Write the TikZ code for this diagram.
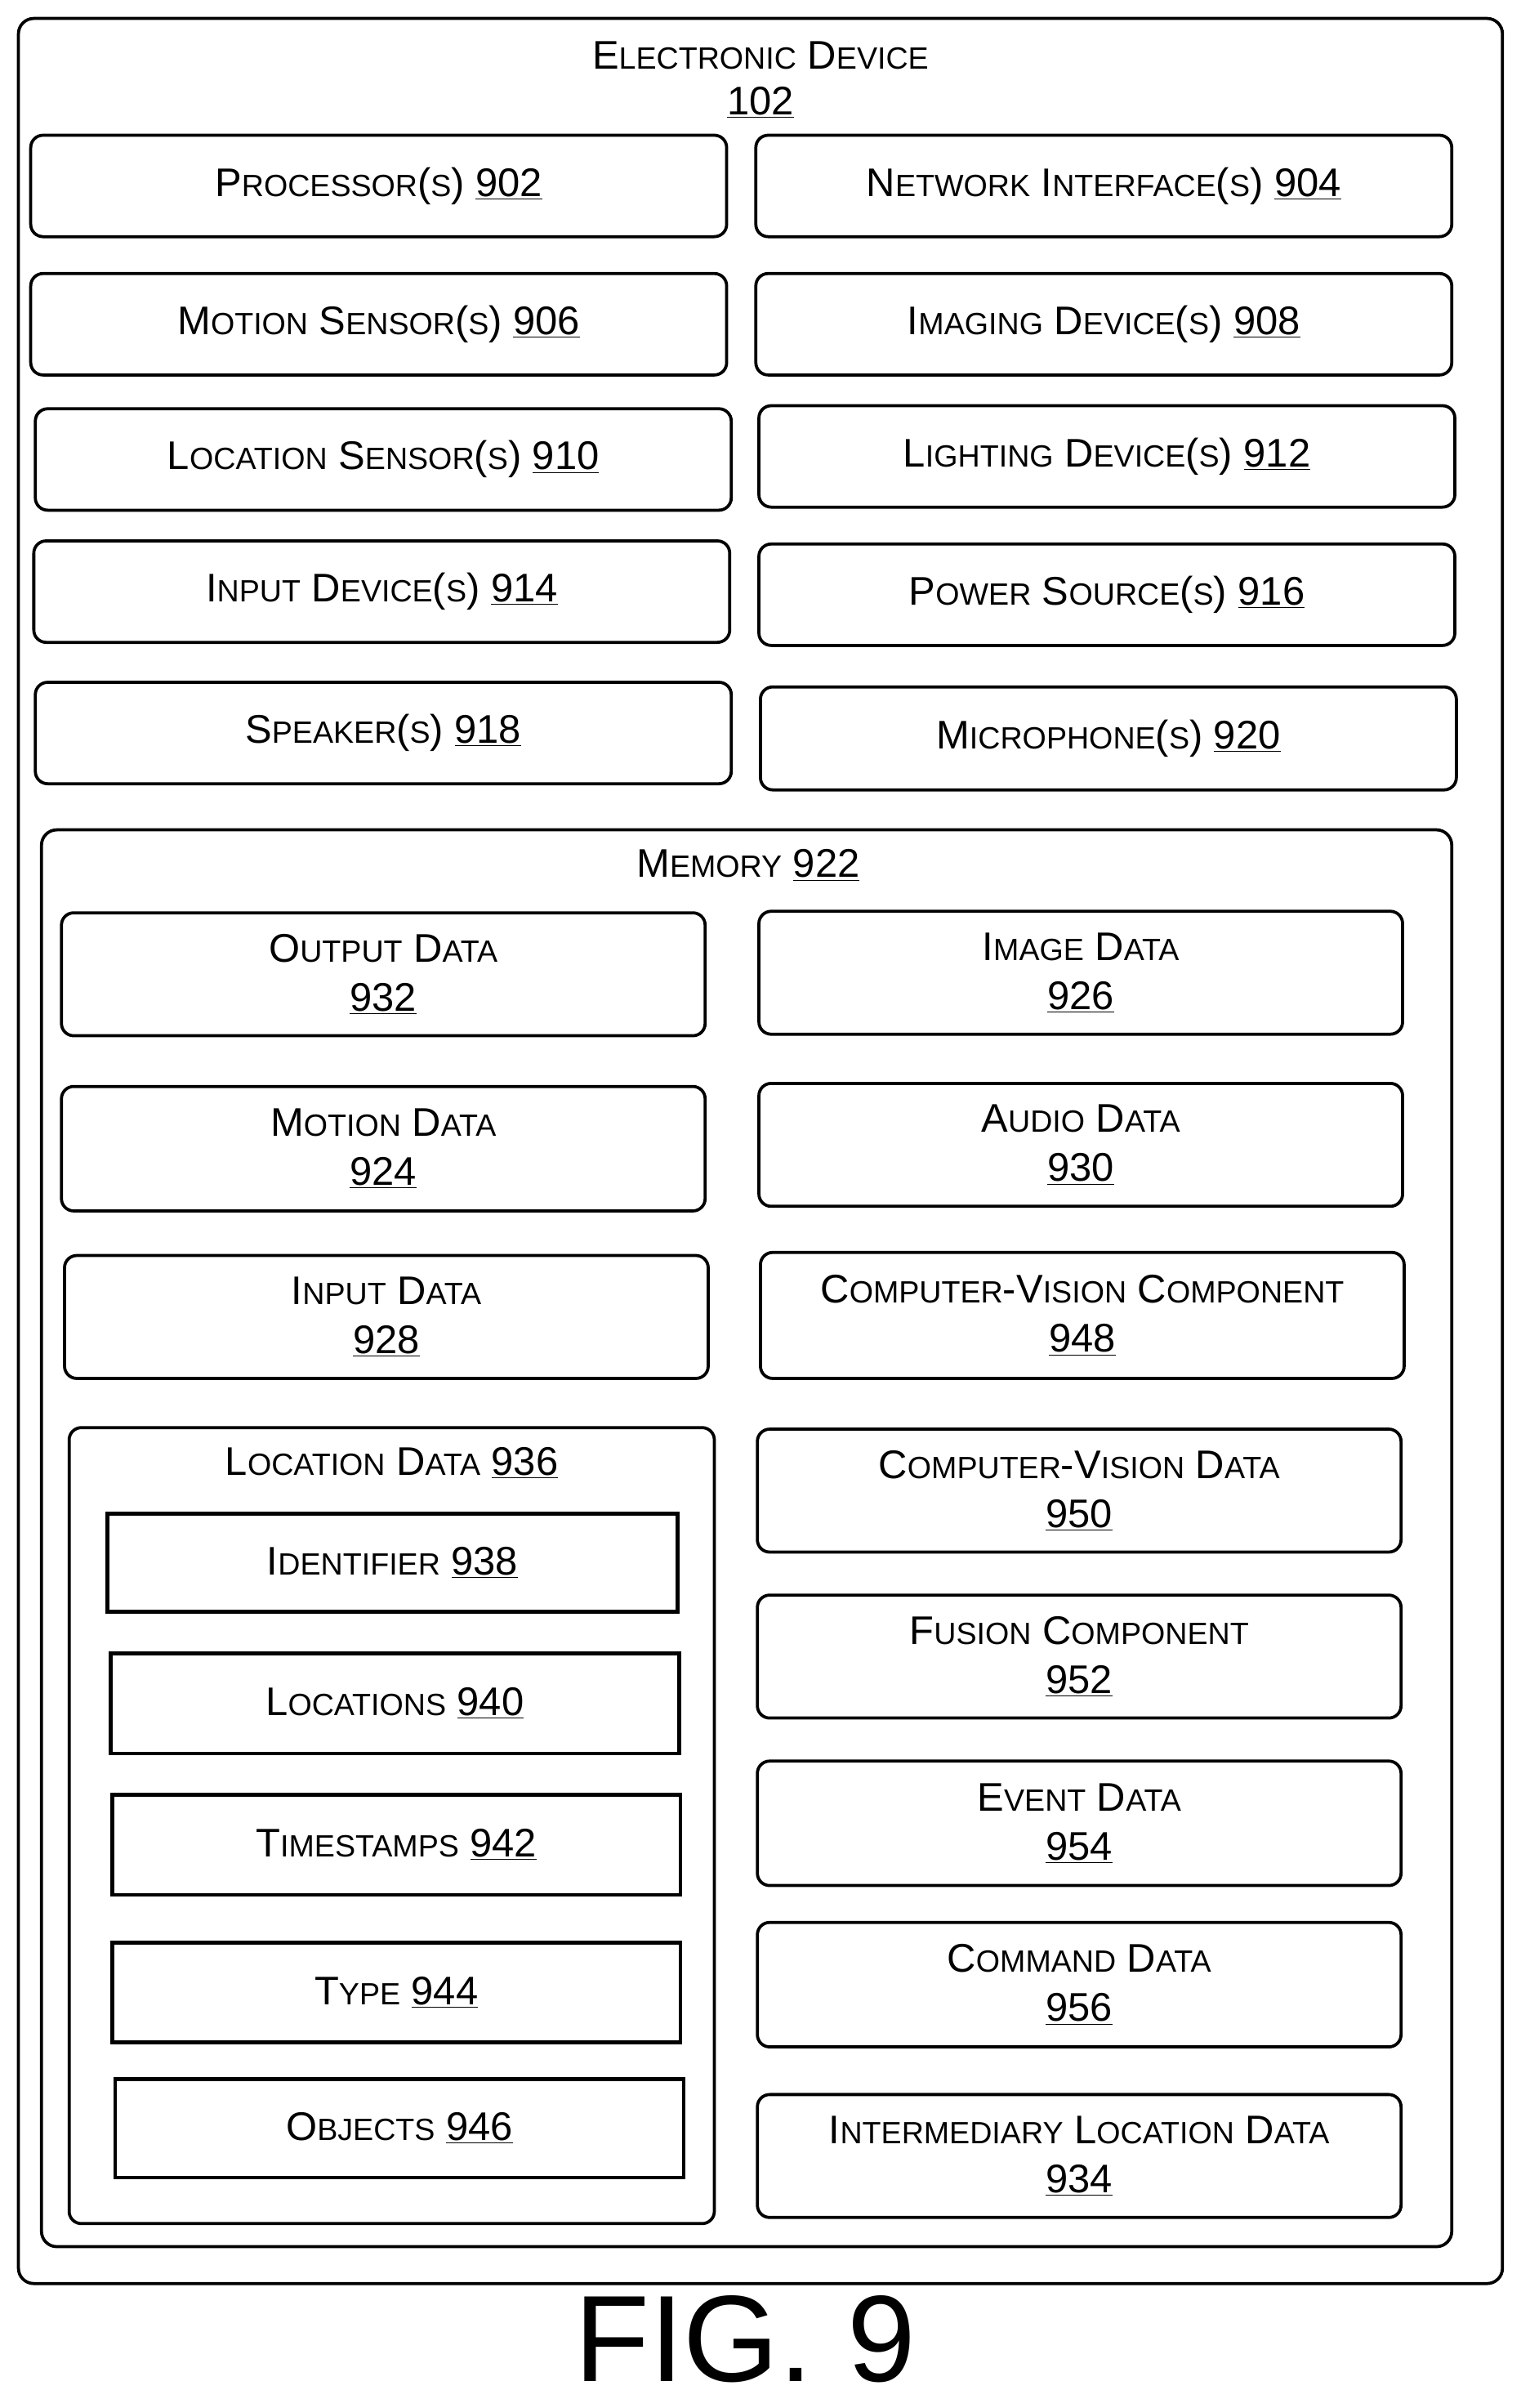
\documentclass[tikz,border=0pt]{standalone}
\usepackage{fontspec}
\setmainfont{Liberation Sans}
\newcommand\sm[1]{{\fontsize{20}{20}\selectfont #1}}
\newcommand\nr[1]{\underline{#1}}
\tikzset{
  unit/.style={draw, line width=2pt, rounded corners=8pt, inner sep=0pt, align=center},
  part/.style={draw, line width=2.5pt, inner sep=0pt, align=center},
}
\newcommand\unitbox[6]{\node[unit, minimum width={#3-#1}, minimum height={#4-#2}] (#5) at ({(#1+#3)/2},{-(#2+#4)/2}) {#6};}
\newcommand\partbox[6]{\node[part, minimum width={#3-#1}, minimum height={#4-#2}] (#5) at ({(#1+#3)/2},{-(#2+#4)/2}) {#6};}
\begin{document}
\begin{tikzpicture}[x=1pt, y=1pt, font=\fontsize{26}{32}\selectfont]
\useasboundingbox (0,0) rectangle (990,-1567);

% outer device
\draw[line width=2pt, rounded corners=10pt] (12,-12) rectangle (978,-1486);
\node[align=center] (dev) at (495,-52) {E\sm{LECTRONIC} D\sm{EVICE}\\[-2pt]\nr{102}};

% hardware
\unitbox{20}{88}{473}{154}{proc}{P\sm{ROCESSOR}(\sm{S}) \nr{902}}
\unitbox{492}{88}{945}{154}{net}{N\sm{ETWORK} I\sm{NTERFACE}(\sm{S}) \nr{904}}
\unitbox{20}{178}{473}{244}{motion}{M\sm{OTION} S\sm{ENSOR}(\sm{S}) \nr{906}}
\unitbox{492}{178}{945}{244}{imaging}{I\sm{MAGING} D\sm{EVICE}(\sm{S}) \nr{908}}
\unitbox{23}{266}{476}{332}{locsens}{L\sm{OCATION} S\sm{ENSOR}(\sm{S}) \nr{910}}
\unitbox{494}{264}{947}{330}{light}{L\sm{IGHTING} D\sm{EVICE}(\sm{S}) \nr{912}}
\unitbox{22}{352}{475}{418}{inputdev}{I\sm{NPUT} D\sm{EVICE}(\sm{S}) \nr{914}}
\unitbox{494}{354}{947}{420}{power}{P\sm{OWER} S\sm{OURCE}(\sm{S}) \nr{916}}
\unitbox{23}{444}{476}{510}{speaker}{S\sm{PEAKER}(\sm{S}) \nr{918}}
\unitbox{495}{447}{948}{514}{mic}{M\sm{ICROPHONE}(\sm{S}) \nr{920}}

% memory
\draw[line width=2pt, rounded corners=10pt] (27,-540) rectangle (945,-1462);
\node (memtitle) at (487,-563) {M\sm{EMORY} \nr{922}};

\unitbox{40}{594}{459}{674}{output}{O\sm{UTPUT} D\sm{ATA}\\\nr{932}}
\unitbox{40}{707}{459}{788}{motiondata}{M\sm{OTION} D\sm{ATA}\\\nr{924}}
\unitbox{42}{817}{461}{897}{inputdata}{I\sm{NPUT} D\sm{ATA}\\\nr{928}}
\unitbox{494}{593}{913}{673}{image}{I\sm{MAGE} D\sm{ATA}\\\nr{926}}
\unitbox{494}{705}{913}{785}{audio}{A\sm{UDIO} D\sm{ATA}\\\nr{930}}
\unitbox{495}{815}{914}{897}{cvcomp}{C\sm{OMPUTER}-V\sm{ISION} C\sm{OMPONENT}\\\nr{948}}
\unitbox{493}{930}{912}{1010}{cvdata}{C\sm{OMPUTER}-V\sm{ISION} D\sm{ATA}\\\nr{950}}
\unitbox{493}{1038}{912}{1118}{fusion}{F\sm{USION} C\sm{OMPONENT}\\\nr{952}}
\unitbox{493}{1146}{912}{1227}{event}{E\sm{VENT} D\sm{ATA}\\\nr{954}}
\unitbox{493}{1251}{912}{1332}{command}{C\sm{OMMAND} D\sm{ATA}\\\nr{956}}
\unitbox{493}{1363}{912}{1443}{inter}{I\sm{NTERMEDIARY} L\sm{OCATION} D\sm{ATA}\\\nr{934}}

% location data
\draw[line width=2pt, rounded corners=8pt] (45,-929) rectangle (465,-1447);
\node (loctitle) at (255,-952) {L\sm{OCATION} D\sm{ATA} \nr{936}};
\partbox{70}{985}{441}{1049}{ident}{I\sm{DENTIFIER} \nr{938}}
\partbox{72}{1076}{442}{1141}{locs}{L\sm{OCATIONS} \nr{940}}
\partbox{73}{1168}{443}{1233}{stamps}{T\sm{IMESTAMPS} \nr{942}}
\partbox{73}{1264}{443}{1329}{type}{T\sm{YPE} \nr{944}}
\partbox{75}{1353}{445}{1417}{objects}{O\sm{BJECTS} \nr{946}}

\node[font=\fontsize{80}{90}\selectfont] (fig) at (485,-1522) {FIG. 9};
\end{tikzpicture}
\end{document}
